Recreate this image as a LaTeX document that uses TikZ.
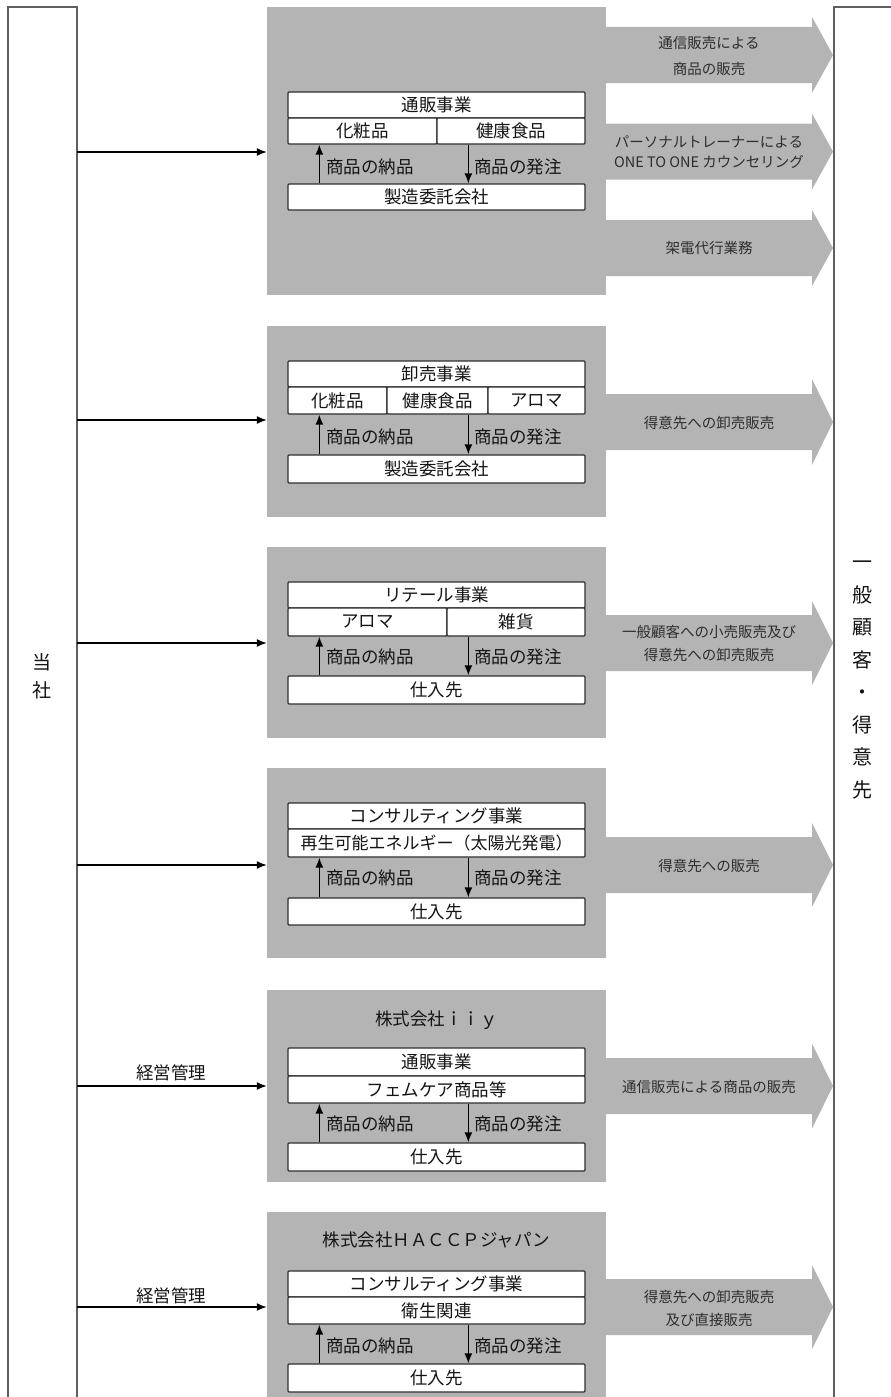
\documentclass[tikz,border=0pt]{standalone}
\usepackage{fontspec}
\setmainfont{Noto Sans CJK JP}
\usetikzlibrary{arrows.meta}
\definecolor{gfill}{RGB}{180,180,180}
\definecolor{cellline}{RGB}{45,45,45}
\definecolor{colline}{RGB}{95,95,95}
\definecolor{txt}{RGB}{20,20,20}
\definecolor{txtb}{RGB}{45,45,45}
\newcommand{\bigarr}[2]{\fill[gfill] (605,#1) ++(0,-28) -- ++(207,0) -- ++(0,{28-#2}) -- ++(21,#2) -- ++(-21,#2) -- ++(0,{28-#2}) -- ++(-207,0) -- cycle;}
\tikzset{
  gbox/.style={fill=gfill, draw=none, inner sep=0pt, minimum width=339pt},
  cell/.style={draw=cellline, line width=1.3pt, fill=white, inner sep=0pt, rounded corners=1pt, font=\fontsize{17.5}{19}\selectfont, text=txt},
  lbl/.style={inner sep=0pt, font=\fontsize{17.5}{19}\selectfont, text=txt},
  ttl/.style={inner sep=0pt, font=\fontsize{17.5}{20}\selectfont, text=txt},
  arrlbl/.style={inner sep=0pt, font=\fontsize{14.5}{23}\selectfont, text=txtb, align=center},
  flow/.style={-{Latex[length=10pt,width=8pt]}, line width=1.4pt, draw=black},
  col/.style={draw=colline, line width=1.5pt},
}
\begin{document}
\begin{tikzpicture}[x=1pt,y=-1pt]
\useasboundingbox (0,0) rectangle (891,1397);
% columns
\draw[col] (8,1405) -- (8,7) -- (77,7) -- (77,1405);
\draw[col] (834,1405) -- (834,7) -- (900,7);
\node[inner sep=0pt, align=center, font=\fontsize{19}{28}\selectfont, text=txt] (tosha) at (42,676) {当\\社};
\node[inner sep=0pt, align=center, font=\fontsize{20}{32.5}\selectfont, text=txt] (kokyaku) at (862,680) {一\\般\\顧\\客\\・\\得\\意\\先};
% start coordinates on left column
\coordinate (s1) at (77,152);
\coordinate (s2) at (77,420);
\coordinate (s3) at (77,643);
\coordinate (s4) at (77,865);
\coordinate (s5) at (77,1086);
\coordinate (s6) at (77,1307);
% gray blocks
\node[gbox, minimum height=288pt] (g1) at (436.5,151) {};
\node[gbox, minimum height=191pt] (g2) at (436.5,421.5) {};
\node[gbox, minimum height=191pt] (g3) at (436.5,642.5) {};
\node[gbox, minimum height=190pt] (g4) at (436.5,863) {};
\node[gbox, minimum height=192pt] (g5) at (436.5,1086) {};
\node[gbox, minimum height=190pt] (g6) at (436.5,1307) {};
% big arrows
\bigarr{55}{38}
\bigarr{151.5}{38}
\bigarr{248}{38}
\bigarr{422}{43}
\bigarr{643}{42}
\bigarr{865}{42}
\bigarr{1086}{42.5}
\bigarr{1307}{42}
% arrow labels
\node[arrlbl, font=\fontsize{14.5}{26}\selectfont] (a11) at (709,56) {通信販売による\\商品の販売};
\node[arrlbl, font=\fontsize{14.5}{20}\selectfont] (a12) at (709,152) {パーソナルトレーナーによる\\ONE TO ONE カウンセリング};
\node[arrlbl] (a13) at (709,248) {架電代行業務};
\node[arrlbl] (a2) at (709,423) {得意先への卸売販売};
\node[arrlbl] (a3) at (709,644) {一般顧客への小売販売及び\\得意先への卸売販売};
\node[arrlbl] (a4) at (709,866) {得意先への販売};
\node[arrlbl] (a5) at (709,1087) {通信販売による商品の販売};
\node[arrlbl] (a6) at (709,1308) {得意先への卸売販売\\及び直接販売};
% main arrows
\foreach \i in {1,...,6} {\draw[flow] (s\i) -- (s\i -| g\i.west);}
\node[lbl] (m5) at (171,1073) {経営管理};
\node[lbl] (m6) at (171,1296) {経営管理};
% ---------- block 1
\node[cell, minimum width=297pt, minimum height=26pt] (h1) at (436.5,105) {通販事業};
\node[cell, minimum width=149pt, minimum height=26pt] (c1a) at (362.5,131) {化粧品};
\node[cell, minimum width=148pt, minimum height=26pt] (c1b) at (511,131) {健康食品};
\node[cell, minimum width=297pt, minimum height=26pt] (b1) at (436.5,197) {製造委託会社};
% ---------- block 2
\node[cell, minimum width=297pt, minimum height=26pt] (h2) at (436.5,374) {卸売事業};
\node[cell, minimum width=99pt, minimum height=27pt] (c2a) at (337.5,400.5) {化粧品};
\node[cell, minimum width=101pt, minimum height=27pt] (c2b) at (437.5,400.5) {健康食品};
\node[cell, minimum width=97pt, minimum height=27pt] (c2c) at (536.5,400.5) {アロマ};
\node[cell, minimum width=297pt, minimum height=28pt] (b2) at (436.5,469) {製造委託会社};
% ---------- block 3
\node[cell, minimum width=297pt, minimum height=26pt] (h3) at (436.5,595) {リテール事業};
\node[cell, minimum width=159pt, minimum height=28pt] (c3a) at (367.5,622) {アロマ};
\node[cell, minimum width=138pt, minimum height=28pt] (c3b) at (516,622) {雑貨};
\node[cell, minimum width=297pt, minimum height=28pt] (b3) at (436.5,690) {仕入先};
% ---------- block 4
\node[cell, minimum width=297pt, minimum height=26pt] (h4) at (436.5,816) {コンサルティング事業};
\node[cell, minimum width=297pt, minimum height=28pt, font=\fontsize{17}{19}\selectfont] (c4a) at (436.5,843) {再生可能エネルギー（太陽光発電）};
\node[cell, minimum width=297pt, minimum height=27pt] (b4) at (436.5,911.5) {仕入先};
% ---------- block 5
\node[ttl] (t5) at (436.5,1020) {株式会社ｉｉｙ};
\node[cell, minimum width=297pt, minimum height=28pt] (h5) at (436.5,1062) {通販事業};
\node[cell, minimum width=297pt, minimum height=27pt] (c5a) at (436.5,1089.5) {フェムケア商品等};
\node[cell, minimum width=297pt, minimum height=28pt] (b5) at (436.5,1157) {仕入先};
% ---------- block 6
\node[ttl] (t6) at (436.5,1240) {株式会社ＨＡＣＣＰジャパン};
\node[cell, minimum width=297pt, minimum height=26pt] (h6) at (436.5,1284) {コンサルティング事業};
\node[cell, minimum width=297pt, minimum height=27pt] (c6a) at (436.5,1310.5) {衛生関連};
\node[cell, minimum width=297pt, minimum height=28pt] (b6) at (436.5,1378) {仕入先};
% ---------- order / delivery arrows and labels
\foreach \i/\ly in {1/167,2/437,3/657,4/878,5/1124,6/1346} {
  \draw[flow] ([xshift=32pt]b\i.north west) -- ([xshift=32pt]b\i.north west |- c\i a.south);
  \draw[flow] ([xshift=181pt]b\i.north west |- c\i a.south) -- ([xshift=181pt]b\i.north west);
  \node[lbl, anchor=west] (nd\i) at (326,\ly) {商品の納品};
  \node[lbl, anchor=west] (od\i) at (474,\ly) {商品の発注};
}
\end{tikzpicture}
\end{document}
